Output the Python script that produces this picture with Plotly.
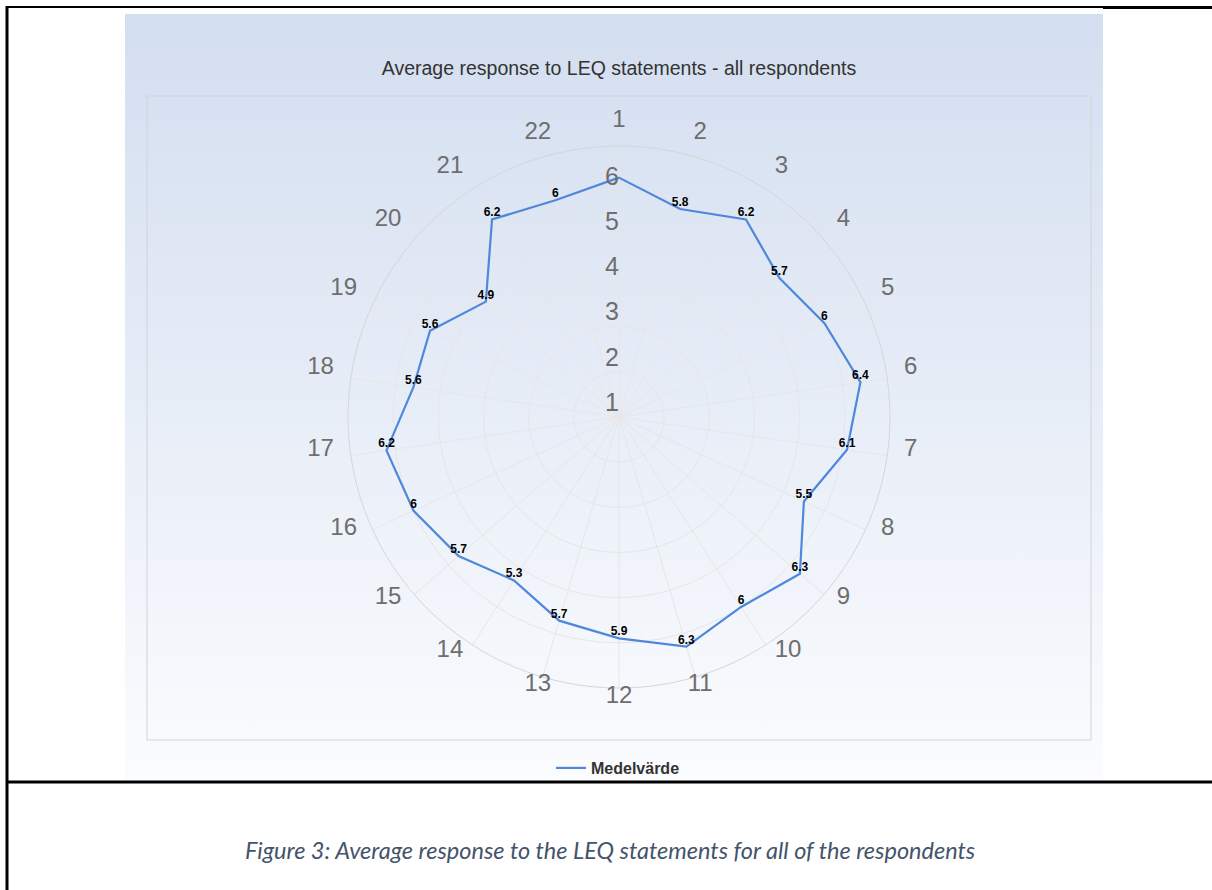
import base64
import math
import plotly.graph_objects as go

# LEQ statements 1..22 and the mean response of all respondents
statements = [str(i) for i in range(1, 23)]
mean_values = [6.3, 5.8, 6.2, 5.7, 6.0, 6.4, 6.1, 5.5, 6.3, 6.0, 6.3,
               5.9, 5.7, 5.3, 5.7, 6.0, 6.2, 5.6, 5.6, 4.9, 6.2, 6.0]
# value labels drawn above the points (the one at statement 1 is hidden)
value_labels = [""] + [f"{v:g}" for v in mean_values[1:]]
radial_ticks = [1, 2, 3, 4, 5, 6]
radial_tick_labels = [str(t) for t in radial_ticks]

W, H = 1212, 890
FONT = "Liberation Sans, Arial, sans-serif"
CX, CY, RING = 619, 417, 271      # chart centre and outer ring radius (px)
LABEL_CY = 421                    # label layer centre, slightly lower
LABEL_RING = 300                  # radius of the label layer (px)
LABEL_R = 288                     # statement labels sit just outside the ring


def px(x):
    return x / W


def py(y):
    return 1 - y / H


# statement labels: centred near the vertical, otherwise aligned away from the ring
label_pos = []
for i in range(len(statements)):
    s = math.sin(2 * math.pi * i / len(statements))
    label_pos.append("top right" if s > 0.34 else "top left" if s < -0.34 else "top center")

# soft blue-to-white background of the chart panel
svg = (
    '<svg xmlns="http://www.w3.org/2000/svg" width="100" height="100" preserveAspectRatio="none">'
    '<defs><linearGradient id="g" x1="0" y1="0" x2="0" y2="1">'
    '<stop offset="0" stop-color="#d3def0"/><stop offset="1" stop-color="#fbfcfe"/>'
    '</linearGradient></defs><rect width="100" height="100" fill="url(#g)"/></svg>'
)
bg_src = "data:image/svg+xml;base64," + base64.b64encode(svg.encode()).decode()

fig = go.Figure()

# closed outline of the averages
fig.add_trace(go.Scatterpolar(
    r=mean_values + mean_values[:1],
    theta=statements + statements[:1],
    mode="lines",
    name="Medelvärde",
    line=dict(color="#4f87dd", width=2.2),
    hoverinfo="skip",
))

# value labels above each point
fig.add_trace(go.Scatterpolar(
    r=mean_values,
    theta=statements,
    mode="text",
    text=value_labels,
    textposition="top center",
    textfont=dict(family=FONT, size=12, color="#000000", weight="bold"),
    showlegend=False,
    hoverinfo="skip",
))

# radial scale labels along the vertical spoke
fig.add_trace(go.Scatterpolar(
    r=radial_ticks,
    theta=[statements[0]] * len(radial_ticks),
    mode="text",
    text=radial_tick_labels,
    textposition="top left",
    textfont=dict(family=FONT, size=25, color="#6e6e6e"),
    showlegend=False,
    hoverinfo="skip",
))

# statement numbers around the outer ring (separate, larger label layer)
fig.add_trace(go.Scatterpolar(
    subplot="polar2",
    r=[LABEL_R] * len(statements),
    theta=statements,
    mode="text",
    text=statements,
    textposition=label_pos,
    textfont=dict(family=FONT, size=24, color="#6e6e6e"),
    cliponaxis=False,
    showlegend=False,
    hoverinfo="skip",
))

angular_common = dict(
    type="category",
    categoryorder="array",
    categoryarray=statements,
    direction="clockwise",
    rotation=90,
    ticks="",
    showticklabels=False,
)

fig.update_layout(
    width=W, height=H, autosize=False,
    margin=dict(l=0, r=0, t=0, b=0),
    paper_bgcolor="#ffffff",
    plot_bgcolor="rgba(0,0,0,0)",
    font=dict(family=FONT),
    title=dict(
        text="Average response to LEQ statements - all respondents",
        x=px(619), xanchor="center", y=py(68), yanchor="middle",
        font=dict(family=FONT, size=19.5, color="#333333"),
    ),
    polar=dict(
        domain=dict(x=[px(CX - RING), px(CX + RING)], y=[py(CY + RING), py(CY - RING)]),
        bgcolor="rgba(0,0,0,0)",
        angularaxis=dict(
            **angular_common,
            showline=True,
            linecolor="#d6d6d6",
            linewidth=1,
            gridcolor="#e6e6e6",
        ),
        radialaxis=dict(
            range=[1, 7],
            tickvals=[1, 2, 3, 4, 5, 6, 7],
            showticklabels=False,
            ticks="",
            showline=False,
            gridcolor="#e6e6e6",
        ),
    ),
    polar2=dict(
        domain=dict(x=[px(CX - LABEL_RING), px(CX + LABEL_RING)],
                    y=[py(LABEL_CY + LABEL_RING), py(LABEL_CY - LABEL_RING)]),
        bgcolor="rgba(0,0,0,0)",
        angularaxis=dict(**angular_common, showline=False, showgrid=False),
        radialaxis=dict(range=[0, LABEL_RING], visible=False),
    ),
    legend=dict(
        orientation="h",
        x=px(618), xanchor="center",
        y=py(768), yanchor="middle",
        bgcolor="rgba(0,0,0,0)",
        font=dict(family=FONT, size=16, color="#333333", weight="bold"),
    ),
    images=[dict(
        source=bg_src, xref="paper", yref="paper",
        x=px(125), y=py(14), sizex=px(1103) - px(125), sizey=py(14) - py(780),
        xanchor="left", yanchor="top", sizing="stretch", layer="below",
    )],
    shapes=[
        # plot area frame
        dict(type="rect", xref="paper", yref="paper",
             x0=px(147), x1=px(1091), y0=py(740), y1=py(96),
             line=dict(color="#cfd4da", width=1), layer="below"),
        # document table rules
        dict(type="line", xref="paper", yref="paper",
             x0=px(7), x1=px(1103), y0=py(7), y1=py(7),
             line=dict(color="#000000", width=2)),
        dict(type="line", xref="paper", yref="paper",
             x0=px(1103), x1=px(1212), y0=py(7.5), y1=py(7.5),
             line=dict(color="#000000", width=3)),
        dict(type="line", xref="paper", yref="paper",
             x0=px(7), x1=px(7), y0=py(6), y1=py(890),
             line=dict(color="#000000", width=3)),
        dict(type="line", xref="paper", yref="paper",
             x0=px(6), x1=px(1212), y0=py(782), y1=py(782),
             line=dict(color="#000000", width=3)),
    ],
    annotations=[dict(
        text="<i>Figure 3: Average response to the LEQ statements for all of the respondents</i>",
        xref="paper", yref="paper", x=px(610), y=py(850),
        xanchor="center", yanchor="middle", showarrow=False,
        font=dict(family="Lato, Open Sans, sans-serif", size=23.5, color="#44546a"),
    )],
)

fig.write_html("out.html")
